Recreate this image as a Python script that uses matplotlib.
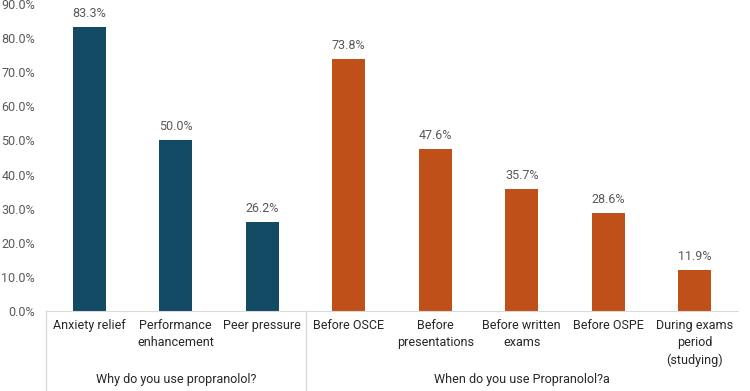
import matplotlib
matplotlib.use("Agg")
import matplotlib.pyplot as plt
from matplotlib.ticker import FuncFormatter, MultipleLocator

categories = ["Anxiety relief", "Performance\nenhancement", "Peer pressure",
              "Before OSCE", "Before\npresentations", "Before written\nexams",
              "Before OSPE", "During exams\nperiod\n(studying)"]
values = [83.3, 50.0, 26.2, 73.8, 47.6, 35.7, 28.6, 11.9]
groups = ["Why do you use propranolol?", "When do you use Propranolol?a"]
group_sizes = [3, 5]
group_colors = ["#134A63", "#C0501A"]

plt.rcParams['font.family'] = ['Roboto', 'DejaVu Sans']
txt = "#595959"
dark = "#262626"

fig = plt.figure(figsize=(7.5, 3.91), dpi=100)
ax = fig.add_axes([46/750, 80/391, (738-46)/750, (311-4)/391])

colors = []
for c, n in zip(group_colors, group_sizes):
    colors += [c] * n
x = list(range(len(categories)))
ax.bar(x, values, width=0.38, color=colors)
for xi, v in zip(x, values):
    ax.annotate(f"{v:.1f}%", (xi, v), xytext=(0, 5), textcoords="offset points",
                ha="center", va="bottom", fontsize=9, color=txt)

ax.set_xlim(-0.5, len(categories) - 0.5)
ax.set_ylim(0, 90)
ax.yaxis.set_major_locator(MultipleLocator(10))
ax.yaxis.set_major_formatter(FuncFormatter(lambda v, p: f"{v:.1f}%"))
ax.tick_params(axis="y", length=0, labelsize=9, labelcolor=txt, pad=8)
ax.set_xticks([])
for s in ["top", "right", "left"]:
    ax.spines[s].set_visible(False)
ax.spines["bottom"].set_color("#D9D9D9")

# category labels
for xi, lab in zip(x, categories):
    ax.annotate(lab, (xi, 0), xycoords=("data", "axes fraction"), xytext=(0, -5.5),
                textcoords="offset points", ha="center", va="top", fontsize=9,
                color=dark, linespacing=1.45)

# group labels & separators
start = 0
bounds = [-0.5]
for g, n in zip(groups, group_sizes):
    mid = start + (n - 1) / 2
    ax.annotate(g, (mid, 0), xycoords=("data", "axes fraction"), xytext=(0, -45),
                textcoords="offset points", ha="center", va="top", fontsize=9,
                color=dark)
    start += n
    bounds.append(start - 0.5)
for b in bounds[:-1]:
    ax.plot([b, b], [0, -0.3], transform=ax.get_xaxis_transform(), color="#D9D9D9",
            lw=1, clip_on=False)

fig.savefig("out.png", dpi=100)
